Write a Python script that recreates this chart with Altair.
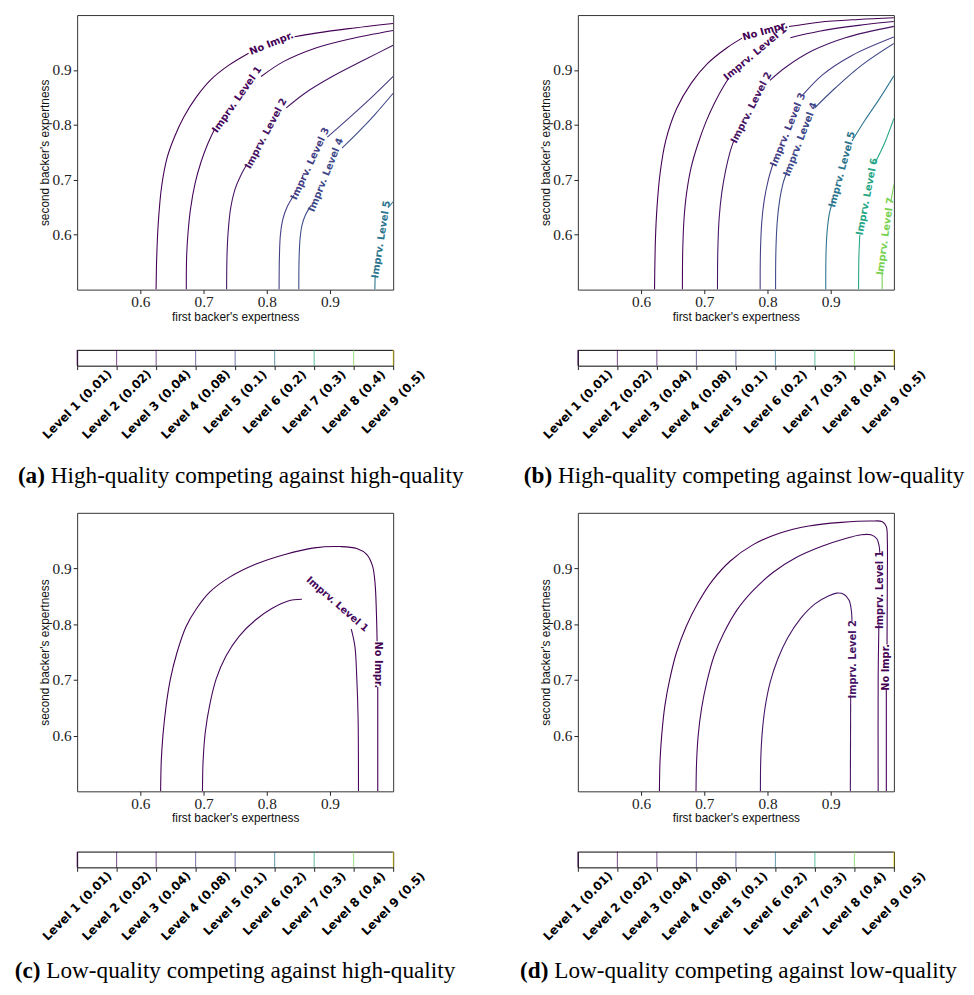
import altair as alt
import pandas as pd

# ---------------- data ----------------
X_DOMAIN = [0.5, 1.0]
Y_DOMAIN = [0.5, 1.0]
TICKS = [0.6, 0.7, 0.8, 0.9]

LEVEL_LABELS = ["Level 1 (0.01)", "Level 2 (0.02)", "Level 3 (0.04)", "Level 4 (0.08)",
                "Level 5 (0.1)", "Level 6 (0.2)", "Level 7 (0.3)", "Level 8 (0.4)", "Level 9 (0.5)"]
LEVEL_COLORS = ["#440154", "#450559", "#471466", "#433e85", "#3e4a89",
                "#2c758e", "#26a684", "#78d152", "#fde725"]

CURVE_COLORS = {
    "No Impr.": "#440154", "Imprv. Level 1": "#46085c", "Imprv. Level 2": "#471466",
    "Imprv. Level 3": "#433e85", "Imprv. Level 4": "#3e4a89", "Imprv. Level 5": "#2c758e",
    "Imprv. Level 6": "#26a684", "Imprv. Level 7": "#78d152",
}

# ---- panel (a) ----
A_NO_IMPR = [
    [(0.6249, 0.5), (0.6259, 0.5588), (0.6285, 0.6235), (0.6337, 0.6882), (0.6426, 0.7412),
     (0.6545, 0.7794), (0.669, 0.8147), (0.6882, 0.85), (0.7116, 0.8824), (0.7401, 0.9088),
     (0.7713, 0.9306)],
    [(0.8439, 0.9606), (0.8776, 0.9671), (0.9295, 0.9753), (1.0, 0.9847)],
]
A_LEVEL_1 = [
    [(0.6727, 0.5), (0.6732, 0.5588), (0.6752, 0.6), (0.6794, 0.6471), (0.6867, 0.6941),
     (0.696, 0.7324), (0.7064, 0.7647), (0.7178, 0.7929)],
    [(0.791, 0.888), (0.8257, 0.9147), (0.8776, 0.94), (0.9295, 0.956), (1.0, 0.972)],
]
A_LEVEL_2 = [
    [(0.7365, 0.5), (0.737, 0.5576), (0.7386, 0.6), (0.7427, 0.6471), (0.75, 0.6835),
     (0.7593, 0.7088), (0.7687, 0.7282)],
    [(0.8309, 0.831), (0.862, 0.859), (0.9036, 0.888), (0.9555, 0.919), (1.0, 0.945)],
]
A_LEVEL_3 = [
    [(0.8195, 0.5), (0.82, 0.5588), (0.8216, 0.6), (0.8257, 0.6294), (0.832, 0.65), (0.8429, 0.6718)],
    [(0.8958, 0.7776), (0.9295, 0.8118), (0.9659, 0.85), (1.0, 0.8882)],
]
A_LEVEL_4 = [
    [(0.8507, 0.5), (0.8512, 0.5588), (0.8528, 0.5941), (0.8558, 0.6176), (0.861, 0.6353), (0.8698, 0.6529)],
    [(0.9191, 0.7576), (0.9451, 0.7871), (0.971, 0.8188), (1.0, 0.8576)],
]
A_LEVEL_5 = [
    [(0.971, 0.5), (0.9715, 0.5265)],
    [(0.9918, 0.6494), (1.0, 0.66)],
]
A_LABELS = [("No Impr.", 0.8076, 0.9482), ("Imprv. Level 1", 0.7531, 0.8459),
            ("Imprv. Level 2", 0.7988, 0.7841), ("Imprv. Level 3", 0.8688, 0.7294),
            ("Imprv. Level 4", 0.8937, 0.7088), ("Imprv. Level 5", 0.9809, 0.5912)]
A_ANGLES = [338, 305, 298, 295, 292, 279]

# ---- panel (b) ----
B_NO_IMPR = [
    [(0.6213, 0.5), (0.6228, 0.594), (0.6254, 0.653), (0.6301, 0.712), (0.6389, 0.771),
     (0.656, 0.829), (0.6794, 0.876), (0.7053, 0.912), (0.7365, 0.941), (0.7598, 0.958)],
    [(0.834, 0.979), (0.8818, 0.987), (0.944, 0.992), (1.0, 0.995)],
]
B_LEVEL_1 = [
    [(0.6654, 0.5), (0.6659, 0.5706), (0.668, 0.6294), (0.6721, 0.6765), (0.6794, 0.7235),
     (0.6898, 0.7647), (0.7028, 0.8059), (0.7168, 0.8412), (0.7313, 0.8718), (0.7391, 0.8853)],
    [(0.8361, 0.9588), (0.8818, 0.9706), (0.944, 0.9812), (1.0, 0.9882)],
]
B_LEVEL_2 = [
    [(0.7209, 0.5), (0.7214, 0.5706), (0.7235, 0.6294), (0.7277, 0.6765), (0.7339, 0.7176),
     (0.7406, 0.75), (0.7469, 0.7718)],
    [(0.8039, 0.8812), (0.8299, 0.9059), (0.8714, 0.9353), (0.9233, 0.9588), (1.0, 0.9794)],
]
B_LEVEL_3 = [
    [(0.7884, 0.5), (0.7889, 0.5706), (0.791, 0.6235), (0.7951, 0.6647), (0.8013, 0.7), (0.8091, 0.7306)],
    [(0.8569, 0.8559), (0.887, 0.8912), (0.9337, 0.9265), (1.0, 0.96)],
]
B_LEVEL_4 = [
    [(0.8128, 0.5), (0.8133, 0.5706), (0.8154, 0.6235), (0.8195, 0.6647), (0.8247, 0.6941), (0.8309, 0.7147)],
    [(0.8745, 0.8306), (0.9077, 0.8676), (0.9492, 0.9088), (1.0, 0.9482)],
]
B_LEVEL_5 = [
    [(0.8922, 0.5), (0.8927, 0.5706), (0.8948, 0.6118), (0.8984, 0.6412), (0.9036, 0.6618)],
    [(0.9337, 0.7706), (0.9544, 0.8088), (0.9752, 0.8441), (1.0, 0.8894)],
]
B_LEVEL_6 = [
    [(0.9441, 0.5), (0.9446, 0.5588), (0.9461, 0.6)],
    [(0.97, 0.7306), (0.9855, 0.7676), (1.0, 0.8118)],
]
B_LEVEL_7 = [
    [(0.9814, 0.5), (0.9814, 0.5353)],
    [(0.9948, 0.6588), (1.0, 0.6912)],
]
B_LABELS = [("No Impr.", 0.7962, 0.9706), ("Imprv. Level 1", 0.7806, 0.9306),
            ("Imprv. Level 2", 0.7744, 0.8312), ("Imprv. Level 3", 0.8325, 0.7912),
            ("Imprv. Level 4", 0.8522, 0.7735), ("Imprv. Level 5", 0.9181, 0.7188),
            ("Imprv. Level 6", 0.9576, 0.6694), ("Imprv. Level 7", 0.9866, 0.597)]
B_ANGLES = [344, 320, 297, 292, 291, 285, 281, 278]

# ---- panel (c) ----
C_NO_IMPR = [
    [(0.6321, 0.5), (0.6331, 0.5547), (0.6357, 0.6), (0.6409, 0.6547), (0.6476, 0.7018),
     (0.6579, 0.7488), (0.6724, 0.7959), (0.689, 0.8282), (0.7097, 0.8576), (0.7407, 0.8841),
     (0.7821, 0.9076), (0.8287, 0.9253), (0.8752, 0.9371), (0.9166, 0.9394), (0.9425, 0.9359),
     (0.958, 0.9253), (0.9673, 0.9047), (0.9714, 0.8724), (0.9735, 0.8194), (0.9746, 0.7694)],
    [(0.9756, 0.6871), (0.9756, 0.5)],
]
C_LEVEL_1 = [
    [(0.6983, 0.5), (0.6993, 0.5547), (0.7029, 0.6076), (0.7097, 0.6547), (0.72, 0.7018),
     (0.7355, 0.7429), (0.7562, 0.7782), (0.7821, 0.8076), (0.808, 0.8282), (0.8338, 0.8418),
     (0.8556, 0.8447)],
    [(0.9337, 0.7912), (0.9394, 0.7606), (0.9425, 0.7018), (0.9445, 0.6312), (0.9451, 0.5)],
]
C_LABELS = [("Imprv. Level 1", 0.9114, 0.8359), ("No Impr.", 0.9761, 0.727)]
C_ANGLES = [41, 90]

# ---- panel (d) ----
D_NO_IMPR = [
    [(0.629, 0.5), (0.63, 0.5547), (0.6326, 0.6), (0.6378, 0.6547), (0.6455, 0.7018),
     (0.6559, 0.7488), (0.6714, 0.7959), (0.6895, 0.8371), (0.7128, 0.8782), (0.7412, 0.9135),
     (0.7774, 0.9429), (0.8188, 0.9635), (0.8654, 0.9765), (0.9171, 0.9829), (0.9637, 0.9853),
     (0.9818, 0.9841), (0.988, 0.9753), (0.9896, 0.9488), (0.9896, 0.8782), (0.9891, 0.7635)],
    [(0.988, 0.6829), (0.988, 0.5)],
]
D_LEVEL_1 = [
    [(0.6869, 0.5), (0.6879, 0.5547), (0.6905, 0.6018), (0.6957, 0.6488), (0.704, 0.6959),
     (0.7154, 0.7429), (0.7309, 0.7841), (0.7516, 0.8253), (0.7774, 0.8606), (0.8085, 0.8929),
     (0.8447, 0.9194), (0.8861, 0.94), (0.9223, 0.9535), (0.9482, 0.9606), (0.9637, 0.9606),
     (0.973, 0.9535), (0.9767, 0.94), (0.9777, 0.9282)],
    [(0.9762, 0.7988), (0.9751, 0.7018), (0.9751, 0.5)],
]
D_LEVEL_2 = [
    [(0.7888, 0.5), (0.7893, 0.5547), (0.7914, 0.6018), (0.796, 0.6488), (0.8043, 0.6959),
     (0.8162, 0.7371), (0.8318, 0.7753), (0.8525, 0.8106), (0.8757, 0.8371), (0.8964, 0.8506),
     (0.9094, 0.8559), (0.9213, 0.8535), (0.9291, 0.8429), (0.9326, 0.8253), (0.9337, 0.8047)],
    [(0.9316, 0.6724), (0.9311, 0.5)],
]
D_LABELS = [("Imprv. Level 2", 0.9352, 0.737), ("Imprv. Level 1", 0.9782, 0.8618),
            ("No Impr.", 0.9875, 0.7224)]
D_ANGLES = [270, 270, 270]

CAPTION_TAGS = ["(a)", "(b)", "(c)", "(d)"]
CAPTION_TEXTS = ["High-quality competing against high-quality",
                 "High-quality competing against low-quality",
                 "Low-quality competing against high-quality",
                 "Low-quality competing against low-quality"]

# ---------------- layout / styling ----------------
W = 320
H_TOP = 278
H_BOTTOM = 282
CB_H = 16
CAP_H = 27


def contour_panel(curves, labels, angles, height):
    rows = []
    for name, segs in curves:
        for si, seg in enumerate(segs):
            for i, (x, y) in enumerate(seg):
                rows.append({"curve": name, "seg": f"{name}|{si}", "i": i, "x": x, "y": y,
                             "col": CURVE_COLORS[name]})
    lines_df = pd.DataFrame(rows)
    lab_df = pd.DataFrame([{"label": t, "x": x, "y": y, "ang": a, "col": CURVE_COLORS[t]}
                           for (t, x, y), a in zip(labels, angles)])
    x_axis = alt.Axis(values=TICKS, format=".1f", labelFont="Liberation Serif", labelFontSize=15.5,
                      labelColor="#222", labelPadding=8, labelBaseline="middle", tickSize=4,
                      tickColor="#222", domain=False, grid=False, labelFlush=False,
                      title="first backer's expertness", titleFont="Liberation Sans",
                      titleFontSize=12, titleFontWeight="normal", titleColor="#111",
                      titleX=W / 2, titleY=27, titleBaseline="middle")
    y_axis = alt.Axis(values=TICKS, format=".1f", labelFont="Liberation Serif", labelFontSize=15.5,
                      labelColor="#222", labelPadding=2, tickSize=4, tickColor="#222",
                      domain=False, grid=False, labelFlush=False,
                      title="second backer's expertness", titleFont="Liberation Sans",
                      titleFontSize=12, titleFontWeight="normal", titleColor="#111",
                      titleX=-33, titleY=height / 2, titleAngle=270, titleBaseline="middle",
                      titleAlign="center")
    xenc = alt.X("x:Q", scale=alt.Scale(domain=X_DOMAIN, nice=False, zero=False), axis=x_axis)
    yenc = alt.Y("y:Q", scale=alt.Scale(domain=Y_DOMAIN, nice=False, zero=False), axis=y_axis)
    lines = alt.Chart(lines_df).mark_line(interpolate="catmull-rom", strokeWidth=1.1, clip=True).encode(
        x=xenc, y=yenc, detail="seg:N", order="i:Q", color=alt.Color("col:N", scale=None))
    text = alt.Chart(lab_df).mark_text(font="DejaVu Sans", fontSize=10, fontWeight="bold",
                                       align="center", baseline="middle").encode(
        x=xenc, y=yenc, text="label:N", angle=alt.Angle("ang:Q", scale=None),
        color=alt.Color("col:N", scale=None))
    return alt.layer(lines, text).properties(width=W, height=height)


def colorbar():
    df = pd.DataFrame({"idx": list(range(len(LEVEL_LABELS))), "label": LEVEL_LABELS, "col": LEVEL_COLORS})
    xenc = alt.X("idx:Q", scale=alt.Scale(domain=[0, len(LEVEL_LABELS) - 1], nice=False, zero=False),
                 axis=alt.Axis(values=list(range(len(LEVEL_LABELS))), labels=False, ticks=True,
                               tickSize=4, tickColor="#222", domain=False, grid=False),
                 title=None)
    rules = alt.Chart(df).mark_rule(strokeWidth=1, opacity=0.75).encode(
        x=xenc, color=alt.Color("col:N", scale=None))
    texts = alt.Chart(df).transform_calculate(
        ypx=f"{CB_H} + 2 + (length(datum.label) * 6.65 + 12) * 0.3536"
    ).mark_text(angle=315, align="center", baseline="middle", font="DejaVu Sans",
                fontWeight="bold", fontSize=12, color="#000").encode(
        x=xenc, y=alt.Y("ypx:Q", scale=None), text="label:N")
    return alt.layer(rules, texts).properties(
        width=W, height=CB_H, view=alt.ViewBackground(stroke="black", strokeWidth=1))


def caption(k, tag_x, base_y, anchor=False):
    df = pd.DataFrame({"tag": [CAPTION_TAGS[k]], "text": [CAPTION_TEXTS[k]]})
    base = alt.Chart(df)
    t1 = base.mark_text(font="Liberation Serif", fontSize=23.5, fontWeight="bold", align="right",
                        baseline="alphabetic", color="black").encode(
        x=alt.value(tag_x), y=alt.value(base_y), text="tag:N")
    t2 = base.mark_text(font="Liberation Serif", fontSize=23.5, align="left",
                        baseline="alphabetic", color="black").encode(
        x=alt.value(tag_x + 5.9), y=alt.value(base_y), text="text:N")
    layers = [t1, t2]
    if anchor:
        layers.append(base.mark_rule(strokeOpacity=0).encode(
            x=alt.value(-69), y=alt.value(0), y2=alt.value(1)))
    return alt.layer(*layers).properties(
        width=W, height=CAP_H, view=alt.ViewBackground(stroke="transparent"))


pa = contour_panel([("No Impr.", A_NO_IMPR), ("Imprv. Level 1", A_LEVEL_1), ("Imprv. Level 2", A_LEVEL_2),
                    ("Imprv. Level 3", A_LEVEL_3), ("Imprv. Level 4", A_LEVEL_4),
                    ("Imprv. Level 5", A_LEVEL_5)], A_LABELS, A_ANGLES, H_TOP)
pb = contour_panel([("No Impr.", B_NO_IMPR), ("Imprv. Level 1", B_LEVEL_1), ("Imprv. Level 2", B_LEVEL_2),
                    ("Imprv. Level 3", B_LEVEL_3), ("Imprv. Level 4", B_LEVEL_4),
                    ("Imprv. Level 5", B_LEVEL_5), ("Imprv. Level 6", B_LEVEL_6),
                    ("Imprv. Level 7", B_LEVEL_7)], B_LABELS, B_ANGLES, H_TOP)
pc = contour_panel([("No Impr.", C_NO_IMPR), ("Imprv. Level 1", C_LEVEL_1)], C_LABELS, C_ANGLES, H_BOTTOM)
pd_ = contour_panel([("No Impr.", D_NO_IMPR), ("Imprv. Level 1", D_LEVEL_1), ("Imprv. Level 2", D_LEVEL_2)],
                    D_LABELS, D_ANGLES, H_BOTTOM)

chart = alt.concat(
    pa, pb,
    colorbar(), colorbar(),
    caption(0, -32.6, 58, anchor=True), caption(1, -26.0, 58),
    pc, pd_,
    colorbar(), colorbar(),
    caption(2, -37.1, 51, anchor=True), caption(3, -29.8, 51),
    columns=2, spacing={"row": 61, "column": 187}, bounds="flush",
).properties(
    padding={"left": 0, "top": 0, "right": 0, "bottom": 0}
).configure_view(stroke="#333", strokeWidth=1)

chart.save("out.html", embed_options={"renderer": "svg", "actions": False})
